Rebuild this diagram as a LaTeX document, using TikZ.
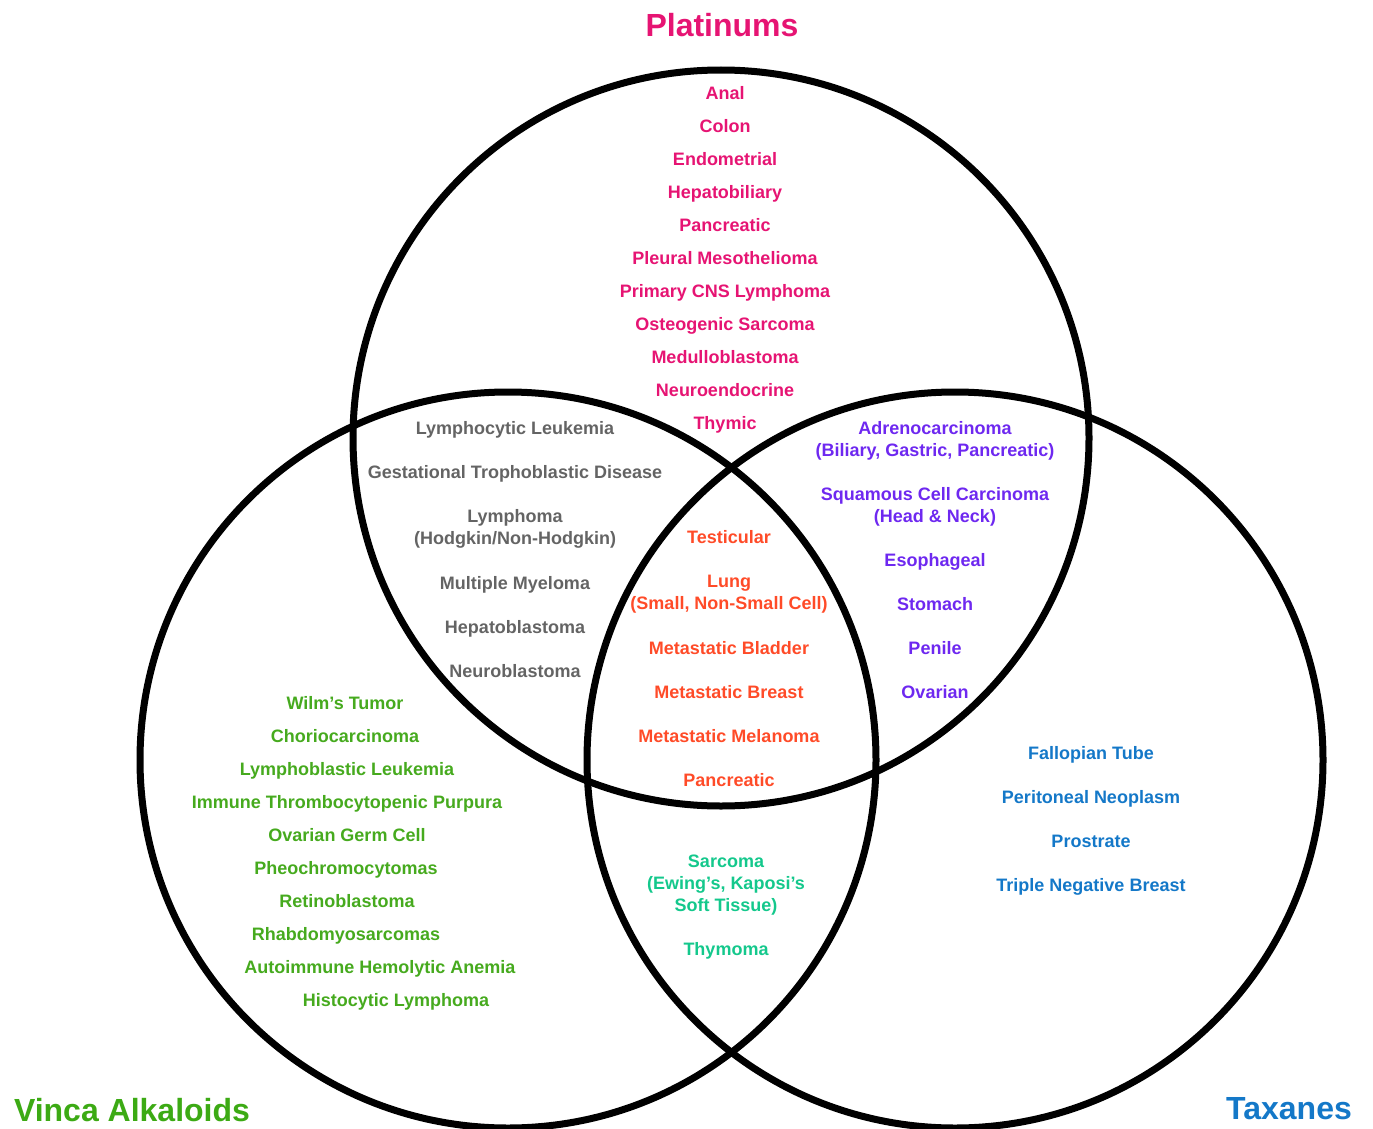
\documentclass[tikz,border=0pt]{standalone}
\usepackage{fontspec}
\setmainfont{Liberation Sans}
\usepackage{tikz}
\usetikzlibrary{positioning}
\tikzset{
    circlenode/.style = {draw, circle, line width=7pt, minimum size=736pt, inner sep=0pt},
    textnode/.style  = {draw=none, fill=none, rectangle, inner sep=0pt, node distance=0pt,
      align=center, font=\bfseries\fontsize{18}{22}\selectfont, text height=12.9pt, text depth=0pt},
    titlenode/.style = {draw=none, fill=none, inner sep=0pt, font=\bfseries\fontsize{32}{38}\selectfont},
    platnode/.style  = {textnode, text=platpink},
    graynode/.style  = {textnode, text=grytext},
    orangenode/.style = {textnode, text=orred},
    purplenode/.style = {textnode, text=purp},
    greennode/.style = {textnode, text=vgreen},
    tealnode/.style  = {textnode, text=teal2},
    bluenode/.style  = {textnode, text=tblue}
}
\definecolor{platpink}{RGB}{230, 20, 115}
\definecolor{grytext}{RGB}{100, 100, 100}
\definecolor{orred}{RGB}{255, 75, 40}
\definecolor{purp}{RGB}{110, 40, 240}
\definecolor{vgreen}{RGB}{70, 170, 30}
\definecolor{titlegreen}{RGB}{60, 170, 20}
\definecolor{teal2}{RGB}{20, 200, 140}
\definecolor{tblue}{RGB}{20, 120, 200}

\begin{document}
\begin{tikzpicture}[x=1pt, y=1pt]
\useasboundingbox (0,0) rectangle (1373,-1129);

% the three sets
\node[circlenode, name=plat] at (721,-438) {};
\node[circlenode, name=vinca] at (508,-760) {};
\node[circlenode, name=tax] at (955,-760) {};

\node[titlenode, name=platinums, text=platpink] at (722,-25) {Platinums};
\node[titlenode, name=vincatitle, text=titlegreen] at (132,-1110) {Vinca Alkaloids};
\node[titlenode, name=taxanes, text=tblue] at (1289,-1109) {Taxanes};

% platinums only
\node[platnode, name=anal] at (725,-93) {Anal};
\node[platnode, name=colon, below of = anal, yshift=-33pt] {Colon};
\node[platnode, name=endometrial, below of = colon, yshift=-33pt] {Endometrial};
\node[platnode, name=hepatobiliary, below of = endometrial, yshift=-33pt] {Hepatobiliary};
\node[platnode, name=pancreatic1, below of = hepatobiliary, yshift=-33pt] {Pancreatic};
\node[platnode, name=pleural, below of = pancreatic1, yshift=-33pt] {Pleural Mesothelioma};
\node[platnode, name=cns, below of = pleural, yshift=-33pt] {Primary CNS Lymphoma};
\node[platnode, name=osteo, below of = cns, yshift=-33pt] {Osteogenic Sarcoma};
\node[platnode, name=medullo, below of = osteo, yshift=-33pt] {Medulloblastoma};
\node[platnode, name=neuroendo, below of = medullo, yshift=-33pt] {Neuroendocrine};
\node[platnode, name=thymic, below of = neuroendo, yshift=-33pt] {Thymic};

% platinums and vinca
\node[graynode, name=lymphocytic] at (515,-428) {Lymphocytic Leukemia};
\node[graynode, name=gestational, below of = lymphocytic, yshift=-44pt] {Gestational Trophoblastic Disease};
\node[graynode, name=lymphoma, below of = gestational, yshift=-66pt] {Lymphoma\\(Hodgkin/Non-Hodgkin)};
\node[graynode, name=myeloma, below of = lymphoma, yshift=-45pt] {Multiple Myeloma};
\node[graynode, name=hepatoblastoma, below of = myeloma, yshift=-44pt] {Hepatoblastoma};
\node[graynode, name=neuroblastoma, below of = hepatoblastoma, yshift=-44pt] {Neuroblastoma};

% all three
\node[orangenode, name=testicular] at (729,-537) {Testicular};
\node[orangenode, name=lung, below of = testicular, yshift=-66pt] {Lung\\(Small, Non-Small Cell)};
\node[orangenode, name=bladder, below of = lung, yshift=-45pt] {Metastatic Bladder};
\node[orangenode, name=breast, below of = bladder, yshift=-44pt] {Metastatic Breast};
\node[orangenode, name=melanoma, below of = breast, yshift=-44pt] {Metastatic Melanoma};
\node[orangenode, name=pancreatic2, below of = melanoma, yshift=-44pt] {Pancreatic};

% platinums and taxanes
\node[purplenode, name=adreno] at (935,-450) {Adrenocarcinoma\\(Biliary, Gastric, Pancreatic)};
\node[purplenode, name=squamous, below of = adreno, yshift=-66pt] {Squamous Cell Carcinoma\\(Head \& Neck)};
\node[purplenode, name=esophageal, below of = squamous, yshift=-44pt] {Esophageal};
\node[purplenode, name=stomach, below of = esophageal, yshift=-44.5pt] {Stomach};
\node[purplenode, name=penile, below of = stomach, yshift=-44pt] {Penile};
\node[purplenode, name=ovarian1, below of = penile, yshift=-44pt] {Ovarian};

% vinca only
\node[greennode, name=wilms] at (345,-703) {Wilm's Tumor};
\node[greennode, name=chorio] at (345,-736) {Choriocarcinoma};
\node[greennode, name=lymphoblastic] at (347,-769) {Lymphoblastic Leukemia};
\node[greennode, name=itp] at (347,-802) {Immune Thrombocytopenic Purpura};
\node[greennode, name=germcell] at (347,-835) {Ovarian Germ Cell};
\node[greennode, name=pheo] at (346,-868) {Pheochromocytomas};
\node[greennode, name=retino] at (347,-901) {Retinoblastoma};
\node[greennode, name=rhabdo] at (346,-934) {Rhabdomyosarcomas};
\node[greennode, name=autoimmune] at (380,-967) {Autoimmune Hemolytic Anemia};
\node[greennode, name=histocytic] at (396,-1000) {Histocytic Lymphoma};

% vinca and taxanes
\node[tealnode, name=sarcoma] at (726,-905) {Sarcoma\\(Ewing's, Kaposi's\\Soft Tissue)};
\node[tealnode, name=thymoma, below of = sarcoma, yshift=-44pt] {Thymoma};

% taxanes only
\node[bluenode, name=fallopian] at (1091,-753) {Fallopian Tube};
\node[bluenode, name=peritoneal, below of = fallopian, yshift=-44pt] {Peritoneal Neoplasm};
\node[bluenode, name=prostrate, below of = peritoneal, yshift=-44pt] {Prostrate};
\node[bluenode, name=triple, below of = prostrate, yshift=-44pt] {Triple Negative Breast};
\end{tikzpicture}
\end{document}
